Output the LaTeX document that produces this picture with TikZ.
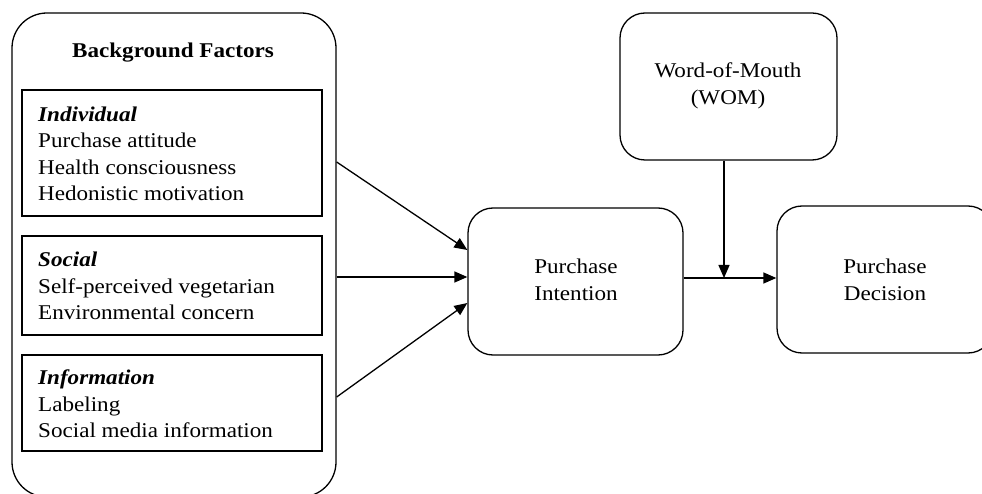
\documentclass[tikz,border=0pt]{standalone}
\usepackage{fontspec}
\setmainfont{Liberation Serif}[FakeStretch=1.1]
\usetikzlibrary{arrows.meta}
\begin{document}
\begin{tikzpicture}[x=1pt,y=-1pt,
  box/.style={draw, line width=1.3pt, rounded corners=#1, inner sep=0pt},
  sub/.style={draw, line width=1.4pt, inner sep=0pt, minimum width=300pt},
  lbl/.style={align=left, anchor=west, inner sep=0pt, font=\fontsize{21}{26.5}\selectfont},
  ctr/.style={align=center, inner sep=0pt, font=\fontsize{21}{27}\selectfont},
  arr/.style={line width=1.3pt, -{Triangle[length=13pt,width=11pt]}}]
\useasboundingbox (0,0) rectangle (982,494);
\fill[white] (0,0) rectangle (982,494);
% outer box
\node[box=35pt, minimum width=324pt, minimum height=484pt] (outer) at (174,255) {};
\node[font=\fontsize{21}{23}\selectfont\bfseries, inner sep=0pt] (title) at (173,53) {Background Factors};
\node[sub, minimum height=126pt] (ind) at (172,153) {};
\node[sub, minimum height=99pt] (soc) at (172,285.5) {};
\node[sub, minimum height=96pt] (inf) at (172,403) {};
\node[lbl] (indt) at (38,154) {\textbf{\textit{Individual}}\\Purchase attitude\\Health consciousness\\Hedonistic motivation};
\node[lbl] (soct) at (38,286) {\textbf{\textit{Social}}\\Self-perceived vegetarian\\Environmental concern};
\node[lbl] (inft) at (38,404) {\textbf{\textit{Information}}\\Labeling\\Social media information};
% right boxes
\node[box=25pt, minimum width=215pt, minimum height=147pt] (pi) at (575.5,281.5) {};
\node[ctr] (pit) at (576,280) {Purchase\\Intention};
\node[box=25pt, minimum width=217pt, minimum height=147pt] (wom) at (728.5,86.5) {};
\node[ctr] (womt) at (728,86) {Word-of-Mouth\\(WOM)};
\node[box=25pt, minimum width=216pt, minimum height=147pt] (pd) at (885,279.5) {};
\node[ctr] (pdt) at (885,280) {Purchase\\Decision};
% connectors
\draw[arr] (outer.east |- 0,162) -- (pi.west |- 0,250);
\draw[arr] (outer.east |- 0,277) -- (pi.west |- 0,277);
\draw[arr] (outer.east |- 0,397) -- (pi.west |- 0,303);
\draw[arr] (pi.east |- 0,278) -- (pd.west |- 0,278);
\coordinate (m) at (724,278);
\draw[arr] (m |- wom.south) -- (m);
\end{tikzpicture}
\end{document}
